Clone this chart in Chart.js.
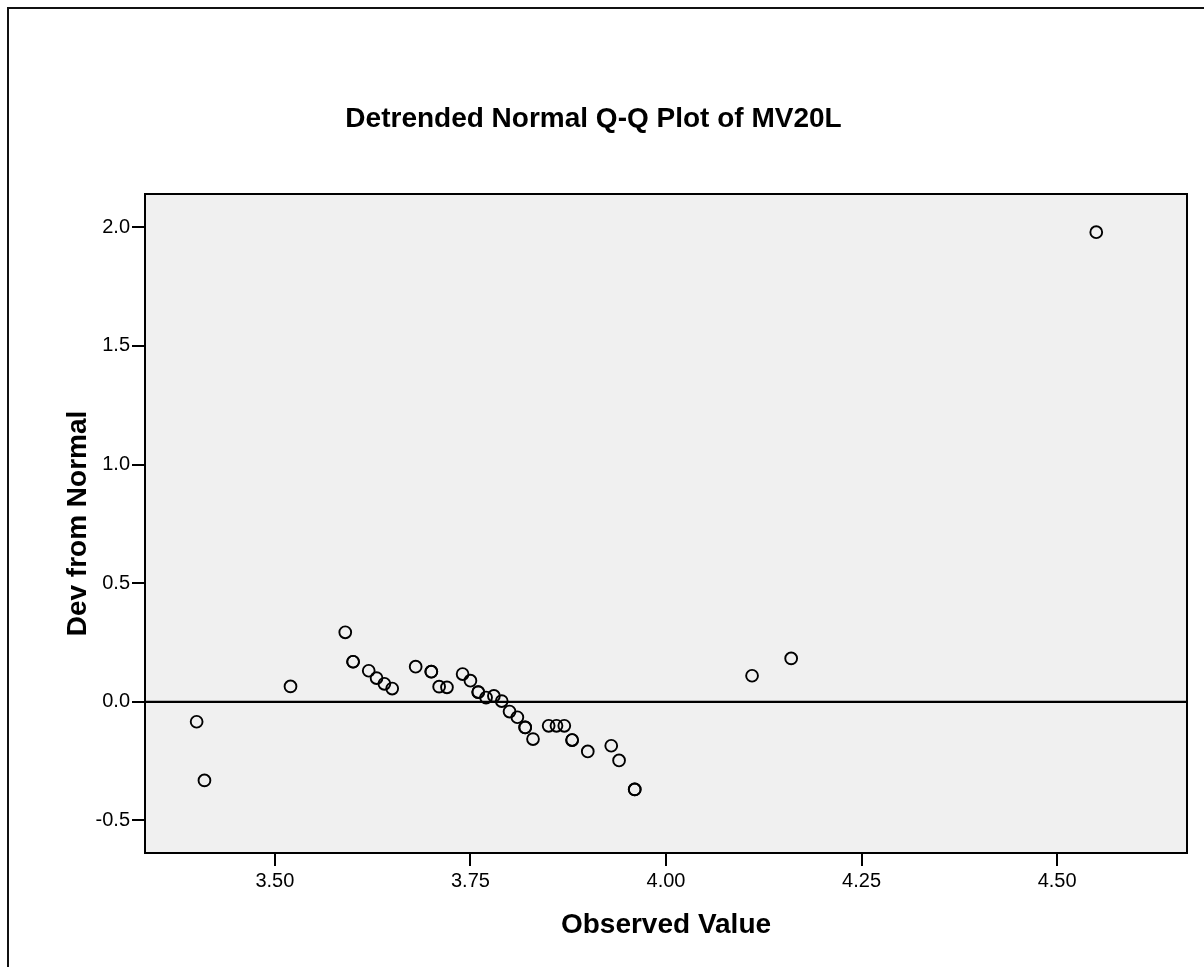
<!DOCTYPE html>
<html><head><meta charset="utf-8">
<script src="https://cdn.jsdelivr.net/npm/chart.js@4"></script>
<style>html,body{margin:0;padding:0;background:#fff}canvas{display:block}</style>
</head><body>
<canvas id="c" width="1204" height="967"></canvas>
<script>
const chartTitle = 'Detrended Normal Q-Q Plot of MV20L';
const xTitle = 'Observed Value';
const yTitle = 'Dev from Normal';
const observed = [3.40, 3.41, 3.52, 3.59, 3.60, 3.60, 3.62, 3.63, 3.64, 3.65, 3.68, 3.70, 3.70, 3.71, 3.72, 3.74, 3.75, 3.76, 3.76, 3.77, 3.78, 3.79, 3.80, 3.81, 3.82, 3.82, 3.83, 3.85, 3.86, 3.87, 3.88, 3.88, 3.90, 3.93, 3.94, 3.96, 3.96, 4.11, 4.16, 4.55];
const deviation = [-0.084, -0.331, 0.065, 0.293, 0.169, 0.169, 0.131, 0.100, 0.076, 0.056, 0.148, 0.127, 0.127, 0.064, 0.061, 0.117, 0.089, 0.041, 0.041, 0.018, 0.025, 0.003, -0.041, -0.065, -0.108, -0.108, -0.157, -0.101, -0.101, -0.101, -0.161, -0.161, -0.209, -0.185, -0.247, -0.369, -0.369, 0.110, 0.183, 1.979];
const xTicks = [3.50, 3.75, 4.00, 4.25, 4.50];
const yTicks = [-0.5, 0.0, 0.5, 1.0, 1.5, 2.0];
const xRange = [3.334, 4.666];
const yRange = [-0.637, 2.140];
const zeroLevel = [0, 0];

const FONT = '"Liberation Sans", Arial, Helvetica, sans-serif';

const framePlugin = {
  id: 'framePlugin',
  beforeDraw(chart) {
    const {ctx, chartArea: a} = chart;
    ctx.save();
    ctx.fillStyle = '#ffffff';
    ctx.fillRect(0, 0, chart.width, chart.height);
    ctx.strokeStyle = '#111';
    ctx.lineWidth = 2;
    ctx.beginPath();
    ctx.moveTo(8, chart.height + 10);
    ctx.lineTo(8, 8);
    ctx.lineTo(chart.width + 10, 8);
    ctx.stroke();
    ctx.fillStyle = '#f0f0f0';
    ctx.fillRect(a.left, a.top, a.right - a.left, a.bottom - a.top);
    ctx.restore();
  },
  afterDraw(chart) {
    const {ctx, chartArea: a} = chart;
    ctx.save();
    ctx.strokeStyle = '#000';
    ctx.lineWidth = 2;
    ctx.strokeRect(a.left, a.top, a.right - a.left, a.bottom - a.top);
    ctx.restore();
  }
};

const points = observed.map((x, i) => ({x, y: deviation[i]}));

new Chart(document.getElementById('c'), {
  type: 'scatter',
  data: {
    datasets: [
      {
        type: 'line',
        data: xRange.map((x, i) => ({x, y: zeroLevel[i]})),
        borderColor: '#000',
        borderWidth: 2.2,
        pointRadius: 0,
        fill: false,
        order: 2
      },
      {
        data: points,
        pointStyle: 'circle',
        pointRadius: 5.9,
        pointBorderWidth: 1.9,
        borderColor: '#000',
        backgroundColor: 'rgba(0,0,0,0)',
        pointBackgroundColor: 'rgba(0,0,0,0)',
        pointBorderColor: '#000',
        order: 1
      }
    ]
  },
  options: {
    responsive: false,
    devicePixelRatio: 1,
    animation: false,
    layout: {padding: {top: 0, left: 0, right: 17, bottom: 0}},
    plugins: {
      legend: {display: false},
      tooltip: {enabled: false},
      title: {
        display: true,
        text: chartTitle,
        color: '#000',
        font: {family: FONT, size: 28, weight: 'bold', lineHeight: 1.2},
        padding: {top: 102, bottom: 58.4}
      }
    },
    scales: {
      x: {
        type: 'linear',
        min: xRange[0],
        max: xRange[1],
        afterBuildTicks: s => { s.ticks = xTicks.map(v => ({value: v})); },
        afterFit: s => { s.height = 114; },
        ticks: {
          callback: v => Number(v).toFixed(2),
          color: '#000',
          font: {family: FONT, size: 20},
          padding: 3,
          maxRotation: 0,
          autoSkip: false
        },
        grid: {drawOnChartArea: false, drawTicks: true, tickLength: 13, color: '#000', lineWidth: 2},
        border: {display: true, color: '#000', width: 2},
        title: {
          display: true,
          text: xTitle,
          color: '#000',
          font: {family: FONT, size: 28, weight: 'bold', lineHeight: 1.2},
          padding: {top: 0, bottom: 25}
        }
      },
      y: {
        type: 'linear',
        min: yRange[0],
        max: yRange[1],
        afterBuildTicks: s => { s.ticks = yTicks.map(v => ({value: v})); },
        afterFit: s => { s.width = 145; },
        ticks: {
          callback: v => Number(v).toFixed(1),
          color: '#000',
          font: {family: FONT, size: 20},
          padding: 2,
          autoSkip: false
        },
        grid: {drawOnChartArea: false, drawTicks: true, tickLength: 13, color: '#000', lineWidth: 2},
        border: {display: true, color: '#000', width: 2},
        title: {
          display: true,
          text: yTitle,
          color: '#000',
          font: {family: FONT, size: 28, weight: 'bold', lineHeight: 1.2},
          padding: {top: 61, bottom: 0}
        }
      }
    }
  },
  plugins: [framePlugin]
});
</script>
</body></html>
